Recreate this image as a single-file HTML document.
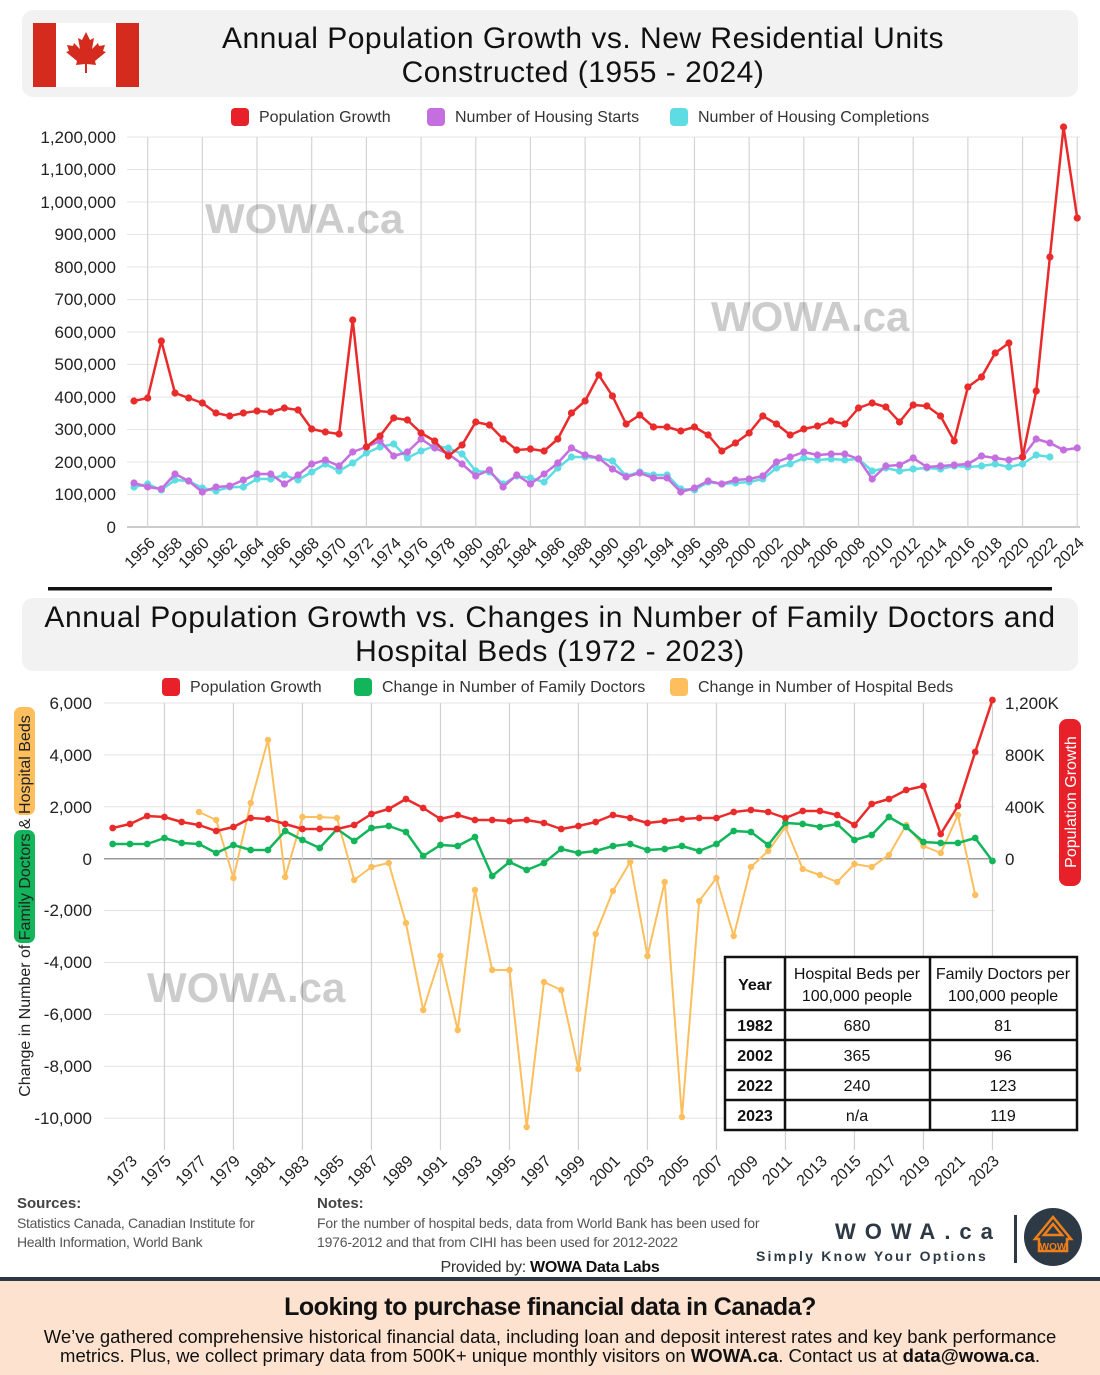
<!DOCTYPE html>
<html><head><meta charset="utf-8"><style>
body{margin:0;background:#fff;width:1100px;height:1375px;overflow:hidden;font-family:"Liberation Sans",sans-serif}
svg{display:block}
</style></head><body>
<svg id="s" width="1100" height="1375" xmlns="http://www.w3.org/2000/svg" font-family="Liberation Sans, sans-serif">
<rect x="22" y="10" width="1056" height="87" rx="11" fill="#f2f2f2"/>
<rect x="33" y="23" width="106" height="64" fill="#fff"/>
<rect x="33" y="23" width="23" height="64" fill="#d52b1e"/>
<rect x="116" y="23" width="23" height="64" fill="#d52b1e"/>
<path d="M86 32 l4 8 4-2-2 11 6-6 1 3 6-1-2 6 3 1-11 9 1 4-9-1v9h-2v-9l-9 1 1-4-11-9 3-1-2-6 6 1 1-3 6 6-2-11 4 2z" fill="#d52b1e"/>
<text x="583" y="48" font-size="30" text-anchor="middle" fill="#111" letter-spacing="0.5">Annual Population Growth vs. New Residential Units</text>
<text x="583" y="82" font-size="30" text-anchor="middle" fill="#111" letter-spacing="0.5">Constructed (1955 - 2024)</text>
<rect x="231" y="108" width="18" height="18" rx="4" fill="#e8202a"/><text x="259" y="122" font-size="16" fill="#333">Population Growth</text>
<rect x="427" y="108" width="18" height="18" rx="4" fill="#c56ee0"/><text x="455" y="122" font-size="16" fill="#333">Number of Housing Starts</text>
<rect x="670" y="108" width="18" height="18" rx="4" fill="#5ddde3"/><text x="698" y="122" font-size="16" fill="#333">Number of Housing Completions</text>
<g id="g1"></g>
<g font-size="17" fill="#222" text-anchor="end">
<text x="116" y="143">1,200,000</text><text x="116" y="175">1,100,000</text><text x="116" y="208">1,000,000</text>
<text x="116" y="240">900,000</text><text x="116" y="273">800,000</text><text x="116" y="305">700,000</text>
<text x="116" y="338">600,000</text><text x="116" y="370">500,000</text><text x="116" y="403">400,000</text>
<text x="116" y="435">300,000</text><text x="116" y="468">200,000</text><text x="116" y="500">100,000</text>
<text x="116" y="533">0</text>
</g>
<g font-size="16" fill="#222" text-anchor="end">
<text transform="translate(156,544) rotate(-45)">1956</text><text transform="translate(183,544) rotate(-45)">1958</text>
<text transform="translate(210,544) rotate(-45)">1960</text><text transform="translate(238,544) rotate(-45)">1962</text>
<text transform="translate(265,544) rotate(-45)">1964</text><text transform="translate(292,544) rotate(-45)">1966</text>
<text transform="translate(320,544) rotate(-45)">1968</text><text transform="translate(347,544) rotate(-45)">1970</text>
<text transform="translate(374,544) rotate(-45)">1972</text><text transform="translate(402,544) rotate(-45)">1974</text>
<text transform="translate(429,544) rotate(-45)">1976</text><text transform="translate(456,544) rotate(-45)">1978</text>
<text transform="translate(484,544) rotate(-45)">1980</text><text transform="translate(511,544) rotate(-45)">1982</text>
<text transform="translate(538,544) rotate(-45)">1984</text><text transform="translate(566,544) rotate(-45)">1986</text>
<text transform="translate(593,544) rotate(-45)">1988</text><text transform="translate(620,544) rotate(-45)">1990</text>
<text transform="translate(648,544) rotate(-45)">1992</text><text transform="translate(675,544) rotate(-45)">1994</text>
<text transform="translate(702,544) rotate(-45)">1996</text><text transform="translate(730,544) rotate(-45)">1998</text>
<text transform="translate(757,544) rotate(-45)">2000</text><text transform="translate(784,544) rotate(-45)">2002</text>
<text transform="translate(812,544) rotate(-45)">2004</text><text transform="translate(839,544) rotate(-45)">2006</text>
<text transform="translate(866,544) rotate(-45)">2008</text><text transform="translate(894,544) rotate(-45)">2010</text>
<text transform="translate(921,544) rotate(-45)">2012</text><text transform="translate(948,544) rotate(-45)">2014</text>
<text transform="translate(976,544) rotate(-45)">2016</text><text transform="translate(1003,544) rotate(-45)">2018</text>
<text transform="translate(1030,544) rotate(-45)">2020</text><text transform="translate(1058,544) rotate(-45)">2022</text>
<text transform="translate(1085,544) rotate(-45)">2024</text>
</g>
<text x="205" y="233" font-size="42" font-weight="bold" fill="#000" fill-opacity="0.2">WOWA.ca</text>
<text x="711" y="331" font-size="42" font-weight="bold" fill="#000" fill-opacity="0.2">WOWA.ca</text>
<rect x="48" y="587" width="1004" height="3.5" fill="#111"/>
<rect x="22" y="598" width="1056" height="73" rx="11" fill="#f2f2f2"/>
<text x="550" y="627" font-size="30" text-anchor="middle" fill="#111" letter-spacing="0.6">Annual Population Growth vs. Changes in Number of Family Doctors and</text>
<text x="550" y="661" font-size="30" text-anchor="middle" fill="#111" letter-spacing="0.6">Hospital Beds (1972 - 2023)</text>
<rect x="162" y="678" width="18" height="18" rx="4" fill="#e8202a"/><text x="190" y="692" font-size="16" fill="#333">Population Growth</text>
<rect x="354" y="678" width="18" height="18" rx="4" fill="#12b55a"/><text x="382" y="692" font-size="16" fill="#333">Change in Number of Family Doctors</text>
<rect x="670" y="678" width="18" height="18" rx="4" fill="#fdbf5e"/><text x="698" y="692" font-size="16" fill="#333">Change in Number of Hospital Beds</text>
<g id="g2"></g>
<text x="147" y="1002" font-size="42" font-weight="bold" fill="#000" fill-opacity="0.2">WOWA.ca</text>
<g font-size="17" fill="#222" text-anchor="end">
<text x="92" y="709">6,000</text><text x="92" y="761">4,000</text><text x="92" y="813">2,000</text>
<text x="92" y="865">0</text><text x="92" y="916">-2,000</text><text x="92" y="968">-4,000</text>
<text x="92" y="1020">-6,000</text><text x="92" y="1072">-8,000</text><text x="92" y="1124">-10,000</text>
</g>
<g font-size="17" fill="#222">
<text x="1005" y="709">1,200K</text><text x="1005" y="761">800K</text><text x="1005" y="813">400K</text><text x="1005" y="865">0</text>
</g>
<rect x="14" y="830" width="21" height="113" rx="7" fill="#12b55a"/>
<rect x="14" y="707" width="21" height="108" rx="7" fill="#fdbf5e"/>
<text transform="translate(30,906) rotate(-90)" font-size="16" text-anchor="middle" fill="#222">Change in Number of Family Doctors &amp; Hospital Beds</text>
<rect x="1059" y="719" width="22" height="167" rx="8" fill="#e8202a"/>
<text transform="translate(1076,802) rotate(-90)" font-size="16" text-anchor="middle" fill="#fff">Population Growth</text>
<g font-size="16" fill="#222" text-anchor="end">
<text transform="translate(138,1162) rotate(-45)">1973</text><text transform="translate(172,1162) rotate(-45)">1975</text>
<text transform="translate(207,1162) rotate(-45)">1977</text><text transform="translate(241,1162) rotate(-45)">1979</text>
<text transform="translate(276,1162) rotate(-45)">1981</text><text transform="translate(310,1162) rotate(-45)">1983</text>
<text transform="translate(345,1162) rotate(-45)">1985</text><text transform="translate(379,1162) rotate(-45)">1987</text>
<text transform="translate(414,1162) rotate(-45)">1989</text><text transform="translate(448,1162) rotate(-45)">1991</text>
<text transform="translate(483,1162) rotate(-45)">1993</text><text transform="translate(517,1162) rotate(-45)">1995</text>
<text transform="translate(552,1162) rotate(-45)">1997</text><text transform="translate(586,1162) rotate(-45)">1999</text>
<text transform="translate(621,1162) rotate(-45)">2001</text><text transform="translate(655,1162) rotate(-45)">2003</text>
<text transform="translate(690,1162) rotate(-45)">2005</text><text transform="translate(724,1162) rotate(-45)">2007</text>
<text transform="translate(759,1162) rotate(-45)">2009</text><text transform="translate(793,1162) rotate(-45)">2011</text>
<text transform="translate(828,1162) rotate(-45)">2013</text><text transform="translate(862,1162) rotate(-45)">2015</text>
<text transform="translate(897,1162) rotate(-45)">2017</text><text transform="translate(931,1162) rotate(-45)">2019</text>
<text transform="translate(966,1162) rotate(-45)">2021</text><text transform="translate(1000,1162) rotate(-45)">2023</text>
</g>
<g>
<rect x="725" y="957" width="352" height="173" fill="#fff" stroke="#111" stroke-width="2.5"/>
<line x1="785" y1="957" x2="785" y2="1130" stroke="#111" stroke-width="2.5"/>
<line x1="930" y1="957" x2="930" y2="1130" stroke="#111" stroke-width="2.5"/>
<line x1="725" y1="1010" x2="1077" y2="1010" stroke="#111" stroke-width="2.5"/>
<line x1="725" y1="1040" x2="1077" y2="1040" stroke="#111" stroke-width="2.5"/>
<line x1="725" y1="1070" x2="1077" y2="1070" stroke="#111" stroke-width="2.5"/>
<line x1="725" y1="1100" x2="1077" y2="1100" stroke="#111" stroke-width="2.5"/>
<g font-size="16" fill="#111" text-anchor="middle">
<text x="755" y="990" font-weight="bold">Year</text>
<text x="857" y="979">Hospital Beds per</text><text x="857" y="1001">100,000 people</text>
<text x="1003" y="979">Family Doctors per</text><text x="1003" y="1001">100,000 people</text>
<text x="755" y="1031" font-weight="bold">1982</text><text x="857" y="1031">680</text><text x="1003" y="1031">81</text>
<text x="755" y="1061" font-weight="bold">2002</text><text x="857" y="1061">365</text><text x="1003" y="1061">96</text>
<text x="755" y="1091" font-weight="bold">2022</text><text x="857" y="1091">240</text><text x="1003" y="1091">123</text>
<text x="755" y="1121" font-weight="bold">2023</text><text x="857" y="1121">n/a</text><text x="1003" y="1121">119</text>
</g></g>
<g fill="#555" font-size="14">
<text x="17" y="1208" font-weight="bold" font-size="15" fill="#444">Sources:</text>
<text x="17" y="1228" letter-spacing="-0.3">Statistics Canada, Canadian Institute for</text>
<text x="17" y="1247" letter-spacing="-0.3">Health Information, World Bank</text>
<text x="317" y="1208" font-weight="bold" font-size="15" fill="#444">Notes:</text>
<text x="317" y="1228" letter-spacing="-0.2">For the number of hospital beds, data from World Bank has been used for</text>
<text x="317" y="1247" letter-spacing="-0.2">1976-2012 and that from CIHI has been used for 2012-2022</text>
</g>
<text x="550" y="1272" font-size="16" text-anchor="middle" fill="#333" letter-spacing="-0.3">Provided by: <tspan font-weight="bold" fill="#111">WOWA Data Labs</tspan></text>
<text x="835" y="1239" font-size="22" font-weight="bold" fill="#2d3a45" letter-spacing="9">WOWA.ca</text>
<text x="756" y="1261" font-size="14" font-weight="bold" fill="#2d3a45" letter-spacing="2.2">Simply Know Your Options</text>
<rect x="1014" y="1215" width="3" height="48" fill="#2d3a45"/>
<circle cx="1053" cy="1237" r="29" fill="#2d3a45"/>
<path d="M1053 1217 l-18 22 h4 v12 h28 v-12 h4z M1053 1224 l9 11 h-18z" fill="none" stroke="#f07f1a" stroke-width="2.5"/>
<text x="1053" y="1250" font-size="10" font-weight="bold" text-anchor="middle" fill="#f07f1a">WOW</text>
<rect x="0" y="1277" width="1100" height="4" fill="#2d3a45"/>
<rect x="0" y="1281" width="1100" height="94" fill="#fde2cf"/>
<text x="550" y="1315" font-size="25" font-weight="bold" text-anchor="middle" fill="#111" letter-spacing="-0.5">Looking to purchase financial data in Canada?</text>
<text x="550" y="1343" font-size="18.5" text-anchor="middle" fill="#111" letter-spacing="0">We’ve gathered comprehensive historical financial data, including loan and deposit interest rates and key bank performance</text>
<text x="550" y="1362" font-size="18.5" text-anchor="middle" fill="#111" letter-spacing="0">metrics. Plus, we collect primary data from 500K+ unique monthly visitors on <tspan font-weight="bold">WOWA.ca</tspan>.  Contact us at <tspan font-weight="bold">data@wowa.ca</tspan>.</text>
</svg>
<script>
var NS="http://www.w3.org/2000/svg";
function el(p,t,a){var e=document.createElementNS(NS,t);for(var k in a)e.setAttribute(k,a[k]);p.appendChild(e);return e;}
var g1=document.getElementById('g1'),g2=document.getElementById('g2');
for(var i=0;i<=12;i++){var y=137+i*32.5;el(g1,'line',{x1:127,x2:1080,y1:y,y2:y,stroke:i==12?'#bbb':'#e6e6e6','stroke-width':i==12?1.5:1});}
for(var yr=1956;yr<=2024;yr+=4){var x=134+13.67*(yr-1955);el(g1,'line',{x1:x,x2:x,y1:137,y2:527,stroke:'#d4d4d4','stroke-width':1.2});}
function series(g,x0,dx,arr,color,off,w,r){var pts=[];arr.forEach(function(v,i){if(v!=null)pts.push([x0+dx*(i+off),v]);});
el(g,'polyline',{points:pts.map(function(p){return p.join(',')}).join(' '),fill:'none',stroke:color,'stroke-width':w,'stroke-linejoin':'round'});
pts.forEach(function(p){el(g,'circle',{cx:p[0],cy:p[1],r:r,fill:color});});}
var cy=[487,484,490,480,481,488,491,487,487,479,479,475,480,472,464,471,463,453,447,444,458,451,446,448,454,471,472,484,476,478,482,468,457,457,458,461,476,472,475,475,489,490,482,484,483,482,479,468,464,458,460,459,460,459,471,468,471,469,468,469,466,467,466,464,467,464,455,457];
var py=[483,487,489,474,481,492,487,486,480,474,474,484,475,464,460,466,452,447,441,456,452,439,448,454,464,476,470,487,475,484,474,463,448,455,458,469,477,473,478,478,492,488,481,484,480,479,476,462,457,452,455,454,454,459,479,466,465,458,467,466,465,464,456,458,460,457,439,443,450,448];
var ry=[401,398,341,393,398,403,413,416,413,411,412,408,410,429,432,434,320,447,436,418,420,433,441,456,445,422,425,439,450,449,451,439,413,401,375,396,424,415,427,427,431,427,435,451,443,433,416,424,435,429,426,421,424,408,403,407,422,405,406,416,441,387,377,353,343,457,391,257,127,218];
series(g1,134,13.67,cy,'#5ddde3',0,2.5,3.6);
series(g1,134,13.67,py,'#c56ee0',0,2.5,3.6);
series(g1,134,13.67,ry,'#ea2b2b',0,2.5,3.6);
for(var i=0;i<=8;i++){var y=703+i*51.9;el(g2,'line',{x1:104,x2:995,y1:y,y2:y,stroke:i==3?'#999':'#e3e3e3','stroke-width':i==3?1.5:1});}
for(var yr=1975;yr<=2023;yr+=4){var x=112.7+17.25*(yr-1972);el(g2,'line',{x1:x,x2:x,y1:703,y2:1150,stroke:'#d0d0d0','stroke-width':1.2});}
var oy=[812,820,878,803,740,877,817,817,818,880,867,863,923,1010,956,1030,890,970,970,1127,982,990,1069,934,891,862,956,882,1117,901,878,936,867,851,827,869,875,882,864,867,855,825,846,853,815,895];
var gy=[844,844,844,838,843,844,853,845,850,850,831,840,848,829,841,828,826,832,856,845,846,837,876,862,870,863,849,853,851,846,844,850,849,846,851,844,831,832,845,823,824,827,824,840,835,817,827,842,843,843,838,861];
var r2=[828,824,816,817,822,825,831,827,818,819,824,829,829,829,825,814,809,799,808,819,815,820,820,821,820,823,829,826,822,815,818,823,821,819,818,818,812,810,812,818,811,811,815,825,804,799,790,786,834,806,752,700];
series(g2,112.7,17.25,oy,'#fdbf5e',5,2,3.2);
series(g2,112.7,17.25,gy,'#12b55a',0,2.5,3.4);
series(g2,112.7,17.25,r2,'#ea2b2b',0,2.5,3.4);
</script>
</body></html>
